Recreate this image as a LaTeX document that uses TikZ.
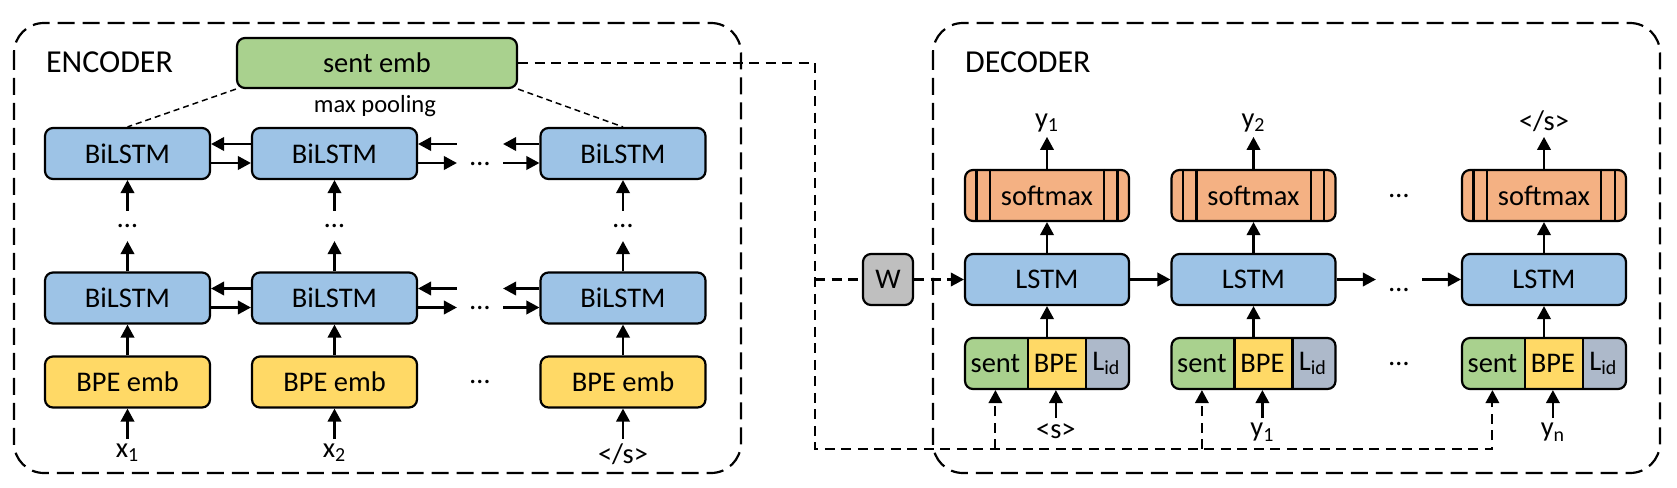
\documentclass[tikz,border=0pt]{standalone}
\usepackage{fontspec}
\setmainfont{Carlito}
\usetikzlibrary{arrows.meta,positioning}
\definecolor{sentgreen}{HTML}{A9D18E}
\definecolor{lstmblue}{HTML}{9DC3E6}
\definecolor{bpeyellow}{HTML}{FFD966}
\definecolor{smaxorange}{HTML}{F4B183}
\definecolor{wgray}{HTML}{BFBFBF}
\definecolor{lidgray}{HTML}{ADB9CA}

\begin{document}
\begin{tikzpicture}[x=0.02cm, y=-0.02cm, line width=1.25pt,
        box/.style = {draw, rounded corners=0.16cm, inner sep=0, minimum height=1.02cm,
            font=\fontsize{16.2}{19}\selectfont},
        bilstm/.style = {box, fill=lstmblue, minimum width=3.3cm},
        bpeemb/.style = {box, fill=bpeyellow, minimum width=3.3cm},
        lstm/.style = {box, fill=lstmblue, minimum width=3.28cm},
        smax/.style = {box, fill=smaxorange, minimum width=3.28cm},
        cat/.style = {box, minimum width=3.28cm, path picture={
            \fill[sentgreen, sharp corners] (path picture bounding box.south west) rectangle ([xshift=1.26cm]path picture bounding box.north west);
            \fill[bpeyellow, sharp corners] ([xshift=1.26cm]path picture bounding box.south west) rectangle ([xshift=2.42cm]path picture bounding box.north west);
            \fill[lidgray, sharp corners] ([xshift=2.42cm]path picture bounding box.south west) rectangle (path picture bounding box.north east);
            \draw[sharp corners] ([xshift=1.26cm]path picture bounding box.south west) -- ([xshift=1.26cm]path picture bounding box.north west);
            \draw[sharp corners] ([xshift=2.42cm]path picture bounding box.south west) -- ([xshift=2.42cm]path picture bounding box.north west);}},
        sec/.style = {inner sep=0, minimum height=1.02cm, font=\fontsize{16.2}{19}\selectfont},
        lbl/.style = {inner sep=0.08cm, font=\fontsize{16.2}{19}\selectfont},
        gapdots/.style = {inner sep=0, minimum width=0.88cm, minimum height=0.56cm,
            font=\fontsize{16.2}{19}\selectfont},
        hgapdots/.style = {gapdots, text height=0.46cm, text depth=0cm},
        arr/.style = {-{Triangle[length=0.26cm,width=0.27cm]}},
        embline/.style = {line width=1.15pt, dash pattern=on 0.2cm off 0.13cm},
        poolline/.style = {line width=0.85pt, dash pattern=on 0.12cm off 0.08cm},
        partframe/.style = {rounded corners=0.6cm, dash pattern=on 0.34cm off 0.16cm}]
    \useasboundingbox (0,0) rectangle (1677,487);

    % Encoder and decoder frames
    \draw[partframe] (14,23) rectangle (741,473);
    \draw[partframe] (933,23) rectangle (1660,473);
    \node[anchor=west, inner sep=0, font=\fontsize{18.2}{22}\selectfont] (enc) at (45,62) {ENCODER};
    \node[anchor=west, inner sep=0, font=\fontsize{18.2}{22}\selectfont] (dec) at (964,62) {DECODER};

    % Encoder columns
    \foreach \i/\x/\tok in {1/127.5/{x\textsubscript{1}}, 2/334.5/{x\textsubscript{2}}, 3/623/{</s>}} {
        \node[bilstm] (top\i) at (\x,153.5) {BiLSTM};
        \node[bilstm] (low\i) at (\x,298) {BiLSTM};
        \node[bpeemb] (emb\i) at (\x,382) {BPE emb};
        \node[gapdots] (vd\i) at (\x,226) {\dots};
        \node[lbl, below=0.6cm of emb\i] (x\i) {\tok};
        \draw[arr] (x\i) -- (emb\i);
        \draw[arr] (emb\i) -- (low\i);
        \draw[arr] (low\i) -- (vd\i);
        \draw[arr] (vd\i) -- (top\i);
    }
    \node[hgapdots] (hdtop) at (480,153.5) {\dots};
    \node[hgapdots] (hdlow) at (480,298) {\dots};
    \node[gapdots] (hdemb) at (480,382) {\dots};

    % Forward and backward links
    \foreach \r in {top,low} {
        \draw[arr] ([yshift=-0.19cm]\r1.east) -- ([yshift=-0.19cm]\r2.west);
        \draw[arr] ([yshift=0.19cm]\r2.west) -- ([yshift=0.19cm]\r1.east);
        \draw[arr] ([yshift=-0.19cm]\r2.east) -- ([yshift=-0.19cm]hd\r.west);
        \draw[arr] ([yshift=0.19cm]hd\r.west) -- ([yshift=0.19cm]\r2.east);
        \draw[arr] ([yshift=-0.19cm]hd\r.east) -- ([yshift=-0.19cm]\r3.west);
        \draw[arr] ([yshift=0.19cm]\r3.west) -- ([yshift=0.19cm]hd\r.east);
    }

    % Sentence embedding
    \node[box, fill=sentgreen, minimum width=5.6cm, minimum height=1.0cm] (sent) at (377,63) {sent emb};
    \node[font=\fontsize{14}{16}\selectfont] (pool) at (375,106) {max pooling};
    \draw[poolline] (sent.south west) -- (top1.north);
    \draw[poolline] (sent.south east) -- (top3.north);

    % Decoder columns
    \foreach \i/\x/\out/\tok in {A/1047/{y\textsubscript{1}}/{<s>}, B/1253.5/{y\textsubscript{2}}/{y\textsubscript{1}}, C/1544/{</s>}/{y\textsubscript{n}}} {
        \node[smax] (sm\i) at (\x,195.5) {softmax};
        \foreach \d in {0.25,0.52} {
            \draw ([xshift=\d cm]sm\i.north west) -- ([xshift=\d cm]sm\i.south west);
            \draw ([xshift=-\d cm]sm\i.north east) -- ([xshift=-\d cm]sm\i.south east);
        }
        \node[lstm] (lstm\i) at (\x,279.5) {LSTM};
        \node[cat] (cat\i) at (\x,363.5) {};
        \node[sec] (sent\i) at ([xshift=0.63cm]cat\i.west) {sent};
        \node[sec] (bpe\i) at ([xshift=1.84cm]cat\i.west) {BPE};
        \node[sec] (lid\i) at ([xshift=2.85cm]cat\i.west) {L\textsubscript{id}};
        \node[lbl, above=0.64cm of sm\i] (y\i) {\out};
        \node[lbl, below=0.56cm of bpe\i] (tok\i) {\tok};
        \draw[arr] (cat\i) -- (lstm\i);
        \draw[arr] (lstm\i) -- (sm\i);
        \draw[arr] (sm\i) -- (y\i);
        \draw[arr] (tok\i) -- (bpe\i);
    }
    \node[hgapdots] (hdd) at (1399,279.5) {\dots};
    \node[gapdots] (sdd) at (1399,195.5) {\dots};
    \node[gapdots] (cdd) at (1399,363.5) {\dots};
    \draw[arr] (lstmA) -- (lstmB);
    \draw[arr] (lstmB) -- (hdd);
    \draw[arr] (hdd) -- (lstmC);

    % Sentence embedding to the decoder
    \node[box, fill=wgray, minimum width=1.0cm] (W) at (888,279.5) {W};
    \coordinate (bus) at (815,449);
    \draw[embline, arr] (sent.east) -| (bus) -| (sentC.south);
    \draw[embline, arr] (sentA.south |- bus) -- (sentA.south);
    \draw[embline, arr] (sentB.south |- bus) -- (sentB.south);
    \draw[embline] (bus |- W.west) -- (W.west);
    \draw[embline, arr] (W) -- (lstmA);
\end{tikzpicture}
\end{document}
